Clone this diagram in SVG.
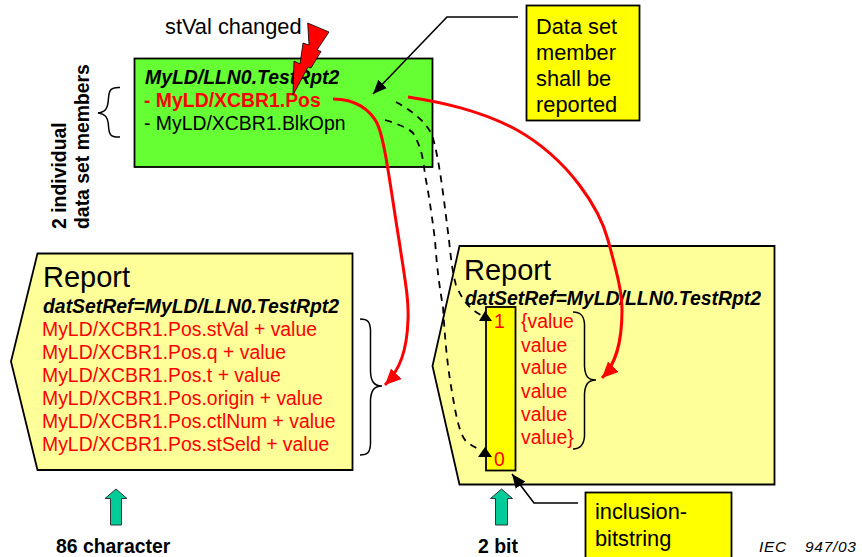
<svg xmlns="http://www.w3.org/2000/svg" width="862" height="557" viewBox="0 0 862 557">
<style>
text{font-family:"Liberation Sans",Arial,sans-serif;fill:#000}
.b{font-weight:700}.bi{font-weight:700;font-style:italic}
.r{fill:#f00}
.t22{font-size:21.800px}.t19{font-size:19.400px}.t29{font-size:29px}
.box{stroke:#000;stroke-width:1.800}
.rep{fill:#ffff99}
.brace{fill:none;stroke:#000;stroke-width:1.500}
.red{fill:none;stroke:#f00;stroke-width:3}
.dash{fill:none;stroke:#000;stroke-width:1.800;stroke-dasharray:7 6}
.blk{fill:none;stroke:#000;stroke-width:1.600}
.up{fill:#00cc99;stroke:#333;stroke-width:1}
</style>
<defs>
<marker id="ra" markerUnits="userSpaceOnUse" markerWidth="18" markerHeight="16" refX="16" refY="7.500" orient="auto"><path d="M0 0L16 7.500L0 15Z" fill="#f00"/></marker>
<marker id="ka" markerUnits="userSpaceOnUse" markerWidth="16" markerHeight="14" refX="14" refY="6" orient="auto"><path d="M0 0L14 6L0 12Z" fill="#000"/></marker>
</defs>
<g id="label-stval"><text x="165" y="34" class="t22">stVal changed</text></g>
<g id="label-members"><text transform="translate(66 229) rotate(-90)" class="b t19">2 individual</text><text transform="translate(89.300 229) rotate(-90)" class="b t19">data set members</text></g>
<g id="members-brace"><path class="brace" d="M120 87.500C110 87 109 91 108.500 98C108 108 106 112 98 113C106 114 108 118 108.500 126C109 134 110 137.500 120 137"/></g>
<g id="dataset">
<rect class="box" x="134.500" y="58.500" width="298" height="108.500" fill="#66ff33"/>
<text x="145" y="84" class="bi t19">MyLD/LLN0.TestRpt2</text>
<text x="144" y="107" class="b r t19">- MyLD/XCBR1.Pos</text>
<text x="144" y="130" class="t19">- MyLD/XCBR1.BlkOpn</text>
</g>
<g id="lightning"><path d="M307.700 23L329 32L317 50L321 51.500L311 68L308 67L293 95L294 61L300 64L303 43L309 45Z" fill="#f00" stroke="#000" stroke-width=".8"/></g>
<g id="callout-member"><rect class="box" x="526.500" y="5.500" width="113" height="115" fill="#ffff00"/>
<text x="536" y="34" class="t22">Data set</text><text x="536" y="60" class="t22">member</text><text x="536" y="86" class="t22">shall be</text><text x="536" y="112" class="t22">reported</text></g>
<g id="report-left">
<path class="box rep" d="M37.500 253.500H352.500V470H37.500L11 361.500Z"/>
<text x="43" y="287" class="t29">Report</text>
<text x="43" y="313" class="bi t19">datSetRef=MyLD/LLN0.TestRpt2</text>
<text class="r t19" x="42" y="336">MyLD/XCBR1.Pos.stVal + value</text><text class="r t19" x="42" y="359">MyLD/XCBR1.Pos.q + value</text><text class="r t19" x="42" y="382">MyLD/XCBR1.Pos.t + value</text><text class="r t19" x="42" y="405">MyLD/XCBR1.Pos.origin + value</text><text class="r t19" x="42" y="428">MyLD/XCBR1.Pos.ctlNum + value</text><text class="r t19" x="42" y="451">MyLD/XCBR1.Pos.stSeld + value</text>
</g>
<g id="left-brace"><path class="brace" d="M360 319C368 319 370 322 370.500 330V372C371 380 373 386 382 386C373 386 371 392 370.500 400V444C370 452 368 455 360 455"/></g>
<g id="report-right">
<path class="box rep" d="M459.500 246H774.500V484.500H459.500L432.500 366Z"/>
<text x="464" y="280" class="t29">Report</text>
<text x="465" y="305" class="bi t19">datSetRef=MyLD/LLN0.TestRpt2</text>
</g>
<g id="bitstring"><rect class="box" x="486" y="307" width="29.500" height="163.500" fill="#ffff00"/>
<text x="494" y="328" class="r t19">1</text><text x="494" y="466" class="r t19">0</text></g>
<g id="values"><text class="r t19" x="521" y="328">{value</text><text class="r t19" x="521" y="351.500">value</text><text class="r t19" x="521" y="374">value</text><text class="r t19" x="521" y="397.500">value</text><text class="r t19" x="521" y="420.500">value</text><text class="r t19" x="521" y="443.500">value}</text></g>
<g id="right-brace"><path class="brace" d="M573 312C581 312 584 316 584.500 324V366C585 375 587 380 596 380C587 380 585 386 584.500 394V436C584 444 581 449 573 449"/></g>
<g id="callout-bits"><rect class="box" x="585.500" y="492.500" width="146" height="66" fill="#ffff00"/>
<text x="595" y="519" class="t22">inclusion-</text><text x="595" y="545.500" class="t22">bitstring</text></g>
<g id="size-left"><path class="up" d="M116 489L127 498.500H121.500V525H110.500V498.500H105Z"/><text x="56" y="553" class="b t19">86 character</text></g>
<g id="size-right"><path class="up" d="M501.500 489L512.500 498.500H507.500V525H495.500V498.500H490.500Z"/><text x="478" y="553" class="b t19">2 bit</text></g>
<g id="iec"><text y="552" font-size="15.500" font-style="italic" letter-spacing="0.700"><tspan x="759">IEC</tspan> <tspan x="805">947/03</tspan></text></g>
<g id="connectors">
<path class="blk" marker-end="url(#ka)" d="M518 17H447L373 94"/>
<path class="blk" marker-end="url(#ka)" d="M578 503H534L512 474"/>
<path class="red" marker-end="url(#ra)" d="M333 99C356 99 370 110 377 123C385 140 390 185 399 240C405 280 409 300 408 320C407 350 400 370 385 385"/>
<path class="red" marker-end="url(#ra)" d="M408 97C440 102 480 110 517 130C570 160 600 210 608 240C616 270 622 290 622 310C622 345 615 365 602 378"/>
<path class="dash" d="M396 102C410 110 425 120 432 135C440 160 445 210 449 240C451 260 453 275 456 285C462 300 470 310 483 316"/>
<path class="dash" d="M385 120C398 124 408 128 413 133C420 145 423 155 425 175C430 200 433 225 435 240C437 270 440 290 443 307C445 340 447 360 450 380C455 410 458 430 465 440C470 445 475 448 482 450"/>
<path fill="#000" d="M485 311L492 321H479ZM485 447L492 457H478Z"/>
</g>
</svg>
